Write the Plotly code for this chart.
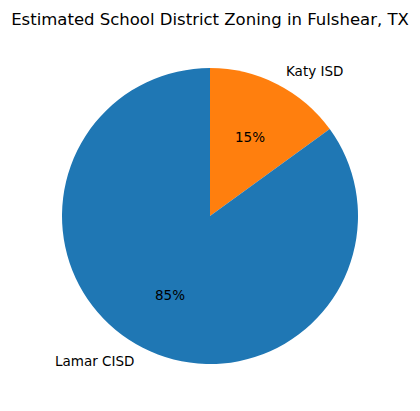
import numpy as np
import plotly.graph_objects as go

districts = ["Katy ISD", "Lamar CISD"]
shares = [15, 85]
colors = ["#ff7f0e", "#1f77b4"]

# page body has an 8px margin, so the figure is 8px smaller than the window
W, H = 412, 403

fig = go.Figure(go.Pie(labels=districts, values=shares, sort=False,
                       direction="clockwise", rotation=0,
                       marker=dict(colors=colors, line=dict(width=0)),
                       textinfo="none", hoverinfo="label+percent",
                       showlegend=False))

# labels at 1.1 r, percentages at 0.6 r (like matplotlib autopct), clockwise from top
total = sum(shares)
cum = 0
for name, v in zip(districts, shares):
    ang = np.deg2rad(90 - 360 * (cum + v / 2) / total)
    cum += v
    cx, cy = np.cos(ang), np.sin(ang)
    fig.add_annotation(x=0.5 + 0.55 * cx, y=0.5 + 0.55 * cy, xref="paper", yref="paper",
                       text=name, showarrow=False,
                       xanchor="left" if cx > 0 else "right", yanchor="middle",
                       font=dict(size=13.5, color="black"))
    fig.add_annotation(x=0.5 + 0.3 * cx, y=0.5 + 0.3 * cy, xref="paper", yref="paper",
                       text=f"{v / total * 100:.0f}%", showarrow=False,
                       xanchor="center", yanchor="middle",
                       font=dict(size=13.5, color="black"))

fig.update_layout(
    width=W, height=H,
    margin=dict(l=54, r=62, t=60, b=47),
    paper_bgcolor="white", plot_bgcolor="white",
    font=dict(family="DejaVu Sans", color="black"),
    title=dict(text="Estimated School District Zoning in Fulshear, TX",
               x=(210 - 8) / W, xanchor="center", y=1 - 11 / H, yanchor="middle",
               font=dict(size=16.5, color="black")),
)

fig.write_html("out.html")
